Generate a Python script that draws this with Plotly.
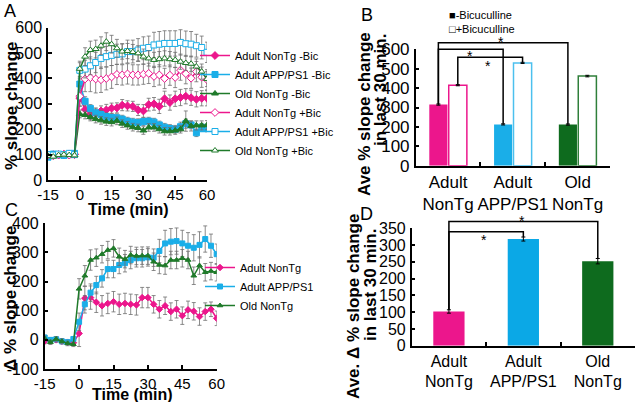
import plotly.graph_objects as go

# ---------------- data ----------------
times = [-15, -12.5, -10, -7.5, -5, -2.5, 0, 2.5, 5, 7.5, 10, 12.5, 15, 17.5, 20, 22.5,
         25, 27.5, 30, 32.5, 35, 37.5, 40, 42.5, 45, 47.5, 50, 52.5, 55, 57.5, 60]
time_ticks = [-15, 0, 15, 30, 45, 60]
time_ticktext = ["-15", "0", "15", "30", "45", "60"]

# Panel A (% slope change)
a_nontg_minus = [95, 100, 98, 100, 103, 100, 322, 278, 258, 262, 272, 276, 283, 284, 295, 292,
                 290, 276, 272, 297, 300, 290, 320, 305, 320, 325, 330, 324, 318, 322, 322]
a_app_minus = [90, 102, 100, 97, 100, 105, 378, 310, 282, 265, 258, 250, 246, 245, 240, 232,
               228, 226, 230, 232, 228, 217, 208, 203, 200, 210, 222, 217, 186, 208, 205]
a_old_minus = [100, 95, 98, 102, 100, 98, 260, 256, 248, 240, 235, 230, 228, 233, 222, 215,
               208, 205, 195, 207, 207, 200, 192, 192, 195, 200, 232, 213, 215, 215, 216]
a_nontg_plus = [98, 95, 100, 102, 98, 102, 330, 398, 403, 398, 395, 400, 406, 416, 414, 418,
                414, 414, 417, 420, 408, 414, 400, 413, 404, 433, 419, 401, 427, 405, 395]
a_app_plus = [100, 98, 102, 100, 105, 100, 432, 437, 450, 463, 479, 486, 491, 495, 497, 506,
              506, 512, 519, 522, 532, 535, 538, 538, 538, 542, 537, 535, 529, 522, 503]
a_old_plus = [95, 92, 98, 100, 98, 97, 438, 486, 512, 516, 529, 545, 535, 519, 506, 508,
              504, 499, 486, 479, 473, 476, 479, 476, 473, 466, 461, 458, 447, 427, 398]

a_err_nontg_minus = [6, 5, 5, 6, 5, 6, 30, 25, 20, 22, 20, 22, 20, 20, 22, 20,
                     20, 22, 25, 25, 25, 28, 30, 30, 30, 32, 30, 30, 30, 30, 30]
a_err_app_minus = [6, 5, 5, 6, 5, 6, 20, 18, 15, 15, 15, 15, 15, 15, 15, 15,
                   15, 15, 15, 15, 15, 15, 15, 15, 15, 18, 18, 15, 15, 15, 15]
a_err_old_minus = [6, 5, 5, 6, 5, 6, 15, 15, 15, 15, 15, 15, 15, 15, 15, 15,
                   15, 15, 15, 15, 15, 15, 15, 15, 15, 15, 40, 20, 18, 18, 18]
a_err_nontg_plus = [6, 5, 5, 6, 5, 6, 40, 50, 55, 55, 50, 45, 45, 40, 40, 40,
                    40, 40, 40, 40, 40, 40, 40, 40, 40, 40, 40, 40, 40, 40, 40]
a_err_app_plus = [6, 5, 5, 6, 5, 6, 30, 35, 35, 40, 40, 40, 40, 40, 40, 45,
                  45, 45, 45, 45, 50, 50, 50, 50, 50, 50, 50, 50, 45, 45, 40]
a_err_old_plus = [6, 5, 5, 6, 5, 6, 30, 35, 35, 35, 35, 35, 35, 35, 30, 30,
                  30, 30, 30, 30, 30, 30, 30, 30, 30, 30, 30, 30, 30, 30, 30]
a_yticks = [0, 100, 200, 300, 400, 500, 600]

# Panel C (delta % slope change)
c_nontg = [-5, -2, 0, -5, -8, -10, 22, 143, 145, 129, 117, 125, 131, 122, 125, 122,
           120, 145, 145, 122, 105, 117, 97, 105, 83, 103, 98, 80, 97, 105, 74]
c_app = [8, 0, 2, -5, -8, 3, 62, 122, 162, 188, 211, 243, 243, 257, 263, 274,
         280, 280, 283, 282, 305, 331, 337, 339, 331, 323, 316, 326, 346, 323, 294]
c_old = [5, -8, 3, -5, -12, -15, 175, 220, 274, 282, 294, 308, 314, 285, 277, 291,
         288, 289, 289, 268, 257, 255, 274, 274, 280, 274, 220, 255, 232, 236, 232]
c_err_nontg = [8, 8, 8, 8, 8, 8, 45, 40, 40, 35, 35, 35, 35, 35, 35, 35,
               35, 35, 35, 30, 30, 30, 30, 30, 30, 30, 30, 30, 30, 25, 25]
c_err_app = [8, 8, 8, 8, 8, 8, 30, 30, 30, 30, 30, 30, 30, 30, 30, 30,
             30, 30, 30, 30, 40, 45, 45, 45, 45, 45, 45, 45, 45, 40, 35]
c_err_old = [8, 8, 8, 8, 8, 8, 35, 35, 35, 30, 30, 30, 30, 30, 30, 30,
             30, 30, 30, 30, 30, 30, 30, 30, 30, 30, 30, 30, 30, 30, 30]
c_yticks = [-100, 0, 100, 200, 300, 400]
c_yticktext = ["-100", "0", "100", "200", "300", "400"]

# Panel B (average, last 30 min)
b_categories = ["Adult<br>NonTg", "Adult<br>APP/PS1", "Old<br>NonTg"]
b_minus = [315, 213, 212]
b_plus = [415, 530, 462]
b_minus_err = [3, 3, 3]
b_plus_err = [3, 3, 4]
b_yticks = [0, 100, 200, 300, 400, 500, 600]

# Panel D
d_categories = ["Adult<br>NonTg", "Adult<br>APP/PS1", "Old<br>NonTg"]
d_vals = [102, 318, 252]
d_err = [5, 6, 8]
d_yticks = [0, 50, 100, 150, 200, 250, 300, 350]

# ---------------- style ----------------
W, H = 638, 402
FONT = "Liberation Sans, Arial, sans-serif"
PINK = "#EC168C"
CYAN = "#1AAEE8"
GREEN = "#0E6B1E"
GREEN_L = "#1F7A2A"
ERRC = "#6E6E6E"


def px_x(p):
    return p / W


def px_y(p):
    return 1 - p / H


fig = go.Figure()

# ---------------- Panel A ----------------
a_series = [
    ("Adult NonTg -Bic", a_nontg_minus, a_err_nontg_minus, PINK, "diamond", PINK),
    ("Adult APP/PS1 -Bic", a_app_minus, a_err_app_minus, CYAN, "square", CYAN),
    ("Old NonTg -Bic", a_old_minus, a_err_old_minus, GREEN_L, "triangle-up", GREEN_L),
    ("Adult NonTg +Bic", a_nontg_plus, a_err_nontg_plus, PINK, "diamond", "white"),
    ("Adult APP/PS1 +Bic", a_app_plus, a_err_app_plus, CYAN, "square", "white"),
    ("Old NonTg +Bic", a_old_plus, a_err_old_plus, GREEN_L, "triangle-up", "white"),
]
for i, (name, vals, errs, col, sym, fill) in enumerate(a_series):
    fig.add_trace(go.Scatter(
        x=times, y=vals, name=name, mode="lines+markers",
        xaxis="x", yaxis="y", legend="legend", legendgroup=f"a{i}",
        line=dict(color=col, width=1.5),
        marker=dict(symbol=sym, size=6, color=fill, line=dict(color=col, width=1)),
        error_y=dict(type="data", array=errs, color=ERRC, thickness=0.8, width=2),
    ))

# ---------------- Panel C ----------------
c_series = [
    ("Adult NonTg", c_nontg, c_err_nontg, PINK, "diamond"),
    ("Adult APP/PS1", c_app, c_err_app, CYAN, "square"),
    ("Old NonTg", c_old, c_err_old, GREEN_L, "triangle-up"),
]
for i, (name, vals, errs, col, sym) in enumerate(c_series):
    fig.add_trace(go.Scatter(
        x=times, y=vals, name=name, mode="lines+markers",
        xaxis="x3", yaxis="y3", legend="legend2", legendgroup=f"c{i}",
        line=dict(color=col, width=1.5),
        marker=dict(symbol=sym, size=5, color=col, line=dict(color=col, width=1)),
        error_y=dict(type="data", array=errs, color=ERRC, thickness=0.8, width=2),
    ))

# ---------------- Panel B ----------------
B_OFF = 0.15
B_W = 0.28
fig.add_trace(go.Bar(
    x=b_categories, y=b_minus, xaxis="x2", yaxis="y2", showlegend=False,
    offset=-B_OFF - B_W / 2, width=B_W,
    marker=dict(color=[PINK, CYAN, GREEN], line=dict(width=0)),
    error_y=dict(type="data", array=b_minus_err, color="black", thickness=1, width=2),
))
fig.add_trace(go.Bar(
    x=b_categories, y=b_plus, xaxis="x2", yaxis="y2", showlegend=False,
    offset=B_OFF - B_W / 2, width=B_W,
    marker=dict(color="white", line=dict(color=[PINK, "#4CC0EE", "#2F7F3A"], width=1.5)),
    error_y=dict(type="data", array=b_plus_err, color="black", thickness=1, width=2),
))

# ---------------- Panel D ----------------
D_W = 0.42
fig.add_trace(go.Bar(
    x=d_categories, y=d_vals, xaxis="x4", yaxis="y4", showlegend=False,
    width=D_W,
    marker=dict(color=[PINK, "#0BA8E6", GREEN], line=dict(width=0)),
    error_y=dict(type="data", array=d_err, color="black", thickness=1, width=2),
))

# ---------------- axes ----------------
axis_common = dict(showline=True, linecolor="black", linewidth=1.5, showgrid=False,
                   zeroline=False, ticks="inside", ticklen=4, tickwidth=1.5,
                   tickcolor="black", mirror=False, automargin=False, tickangle=0)

A_XD = [px_x(48), px_x(207)]
A_YD = [px_y(180), px_y(27.7)]
B_XD = [px_x(415.7), px_x(610)]
B_YD = [px_y(165.7), px_y(49.3)]
C_XD = [px_x(44.7), px_x(216.7)]
C_YD = [px_y(369), px_y(223.3)]
D_XD = [px_x(411.7), px_x(635)]
D_YD = [px_y(345.7), px_y(228.3)]

B_YMAX = 600
D_YMAX = 350

fig.update_layout(
    xaxis=dict(domain=A_XD, range=[-15, 60], tickvals=time_ticks, ticktext=time_ticktext,
               anchor="y", tickfont=dict(size=15), **axis_common),
    yaxis=dict(domain=A_YD, range=[0, 600], tickvals=a_yticks,
               anchor="x", tickfont=dict(size=16), ticklabelstandoff=1, **axis_common),
    xaxis2=dict(domain=B_XD, range=[-0.5, 2.5], anchor="y2", tickson="boundaries",
                tickfont=dict(size=17), **axis_common),
    yaxis2=dict(domain=B_YD, range=[0, B_YMAX], tickvals=b_yticks,
                anchor="x2", tickfont=dict(size=17), ticklabelstandoff=1, **axis_common),
    xaxis3=dict(domain=C_XD, range=[-15, 60], tickvals=time_ticks, ticktext=time_ticktext,
                anchor="y3", tickfont=dict(size=15), **axis_common),
    yaxis3=dict(domain=C_YD, range=[-100, 400], tickvals=c_yticks, ticktext=c_yticktext,
                anchor="x3", tickfont=dict(size=16), ticklabelstandoff=1, **axis_common),
    xaxis4=dict(domain=D_XD, range=[-0.5, 2.5], anchor="y4", tickson="boundaries",
                tickfont=dict(size=16), **axis_common),
    yaxis4=dict(domain=D_YD, range=[0, D_YMAX], tickvals=d_yticks,
                anchor="x4", tickfont=dict(size=16), ticklabelstandoff=1, **axis_common),
)

# ---------------- significance brackets ----------------
shapes = []


def bracket(xref, yref, ncat, ymax, x_left, y_left, x_right, y_right, h):
    def fx(p):
        return (p + 0.5) / ncat

    pts = [(fx(x_left), y_left / ymax), (fx(x_left), h / ymax),
           (fx(x_right), h / ymax), (fx(x_right), y_right / ymax)]
    path = "M " + " L ".join(f"{a},{b}" for a, b in pts)
    shapes.append(dict(type="path", path=path, xref=xref, yref=yref,
                       line=dict(color="black", width=1.5)))


bracket("x2 domain", "y2 domain", 3, B_YMAX, 0 - B_OFF, b_minus[0] + b_minus_err[0],
        2 - B_OFF, b_minus[2] + b_minus_err[2], 634)
bracket("x2 domain", "y2 domain", 3, B_YMAX, 0 - B_OFF, b_minus[0] + b_minus_err[0],
        1 - B_OFF, b_minus[1] + b_minus_err[1], 600)
bracket("x2 domain", "y2 domain", 3, B_YMAX, 0 + B_OFF, b_plus[0] + b_plus_err[0],
        1 + B_OFF, b_plus[1] + b_plus_err[1], 559)
bracket("x4 domain", "y4 domain", 3, D_YMAX, 0, d_vals[0] + d_err[0],
        2, d_vals[2] + d_err[2], 370)
bracket("x4 domain", "y4 domain", 3, D_YMAX, 0, d_vals[0] + d_err[0],
        1, d_vals[1] + d_err[1], 340)

# ---------------- annotations ----------------
ann = []


def text(x, y, t, size, bold=False, angle=0, xanchor="center", yanchor="middle"):
    ann.append(dict(x=px_x(x), y=px_y(y), xref="paper", yref="paper", text=(f"<b>{t}</b>" if bold else t),
                    showarrow=False, textangle=angle, xanchor=xanchor, yanchor=yanchor,
                    align="left", borderpad=0,
                    font=dict(size=size, family=FONT, color="black")))


# panel letters
text(10, 11, "A", 18)
text(367, 15, "B", 18)
text(11, 210, "C", 18)
text(366, 214, "D", 18)

# axis titles
text(11, 106, "% slope change", 17, bold=True, angle=-90)
text(128, 209, "Time (min)", 16, bold=True)
text(10, 299, "Δ % slope change", 17, bold=True, angle=-90)
text(132, 394, "Time (min)", 16, bold=True)
text(365, 114, "Ave % slope change", 17, bold=True, angle=-90)
text(381, 90, "in last 30 min.", 17, bold=True, angle=-90)
text(353, 306, "Ave. Δ % slope change", 17, bold=True, angle=-90)
text(370, 285, "in last 30 min.", 17, bold=True, angle=-90)

# B legend
text(448, 22.5, "■-Bicuculline<br>□+Bicuculline", 11, xanchor="left")

# stars
text(501, 42, "*", 14)
text(470, 56, "*", 14)
text(488, 66, "*", 14)
text(522, 221, "*", 14)
text(484, 240, "*", 14)

fig.update_layout(
    template="none",
    width=W, height=H, margin=dict(l=0, r=0, t=0, b=0, pad=0, autoexpand=False),
    paper_bgcolor="white", plot_bgcolor="white",
    font=dict(family=FONT, color="black"),
    shapes=shapes, annotations=ann,
    showlegend=True,
    legend=dict(x=px_x(195), y=px_y(41), xanchor="left", yanchor="top",
                font=dict(size=11, family=FONT), bgcolor="rgba(0,0,0,0)",
                tracegroupgap=0, itemwidth=30, borderwidth=0),
    legend2=dict(x=px_x(200), y=px_y(253), xanchor="left", yanchor="top",
                 font=dict(size=11, family=FONT), bgcolor="rgba(0,0,0,0)",
                 tracegroupgap=0, itemwidth=30, borderwidth=0),
)

fig.write_html("out.html", config={"displayModeBar": False},
               post_script="document.body.style.margin='0';document.body.style.overflow='hidden';")
